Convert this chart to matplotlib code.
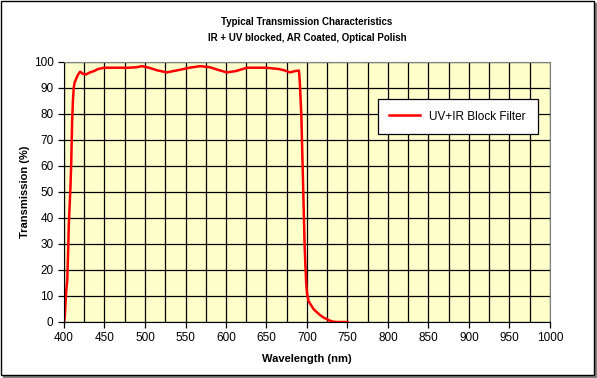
import matplotlib
matplotlib.use('Agg')
from matplotlib import pyplot as plt
from matplotlib.patches import Rectangle
from matplotlib.ticker import MultipleLocator

plt.rcParams['font.family'] = ['Liberation Sans', 'DejaVu Sans']

# UV+IR block filter transmission curve
wavelength = [400, 401, 402, 403, 404, 405, 406, 407, 408, 409, 410, 411, 412,
              413, 415, 417, 420, 423, 427, 432, 437, 442, 450, 463, 480, 490,
              496, 505, 515, 527, 540, 555, 568, 580, 590, 601, 612, 626, 650,
              665, 672, 679, 685, 690, 691, 693, 695, 697, 698, 699, 700, 702,
              705, 708, 712, 716, 720, 725, 730, 735, 750]
transmission = [0, 2, 8, 13, 16, 26, 38, 45, 52, 62, 77, 85, 90,
                92, 93.5, 95, 96.3, 95.5, 95.2, 96, 96.5, 97.3, 97.8, 97.8, 97.8, 98,
                98.4, 97.8, 96.8, 96, 96.8, 97.8, 98.4, 98, 97, 96, 96.5, 97.8, 97.8,
                97.3, 96.8, 96, 96.5, 96.7, 93, 79.6, 55, 30, 22, 15, 11, 8,
                6.5, 5, 3.8, 2.7, 1.8, 1.0, 0.3, 0, 0]

fig = plt.figure(figsize=(5.97, 3.78), dpi=100)
ax = fig.add_axes([64 / 597, 56 / 378, 486 / 597, 260 / 378])
ax.set_facecolor('#FFFFCC')

ax.plot(wavelength, transmission, color='red', lw=1.8, label='UV+IR Block Filter')

ax.set_xlim(400, 1000)
ax.set_ylim(0, 100)
ax.xaxis.set_major_locator(MultipleLocator(50))
ax.xaxis.set_minor_locator(MultipleLocator(25))
ax.yaxis.set_major_locator(MultipleLocator(10))
ax.grid(which='both', color='black', lw=0.9)
ax.set_axisbelow(True)
ax.tick_params(which='major', direction='out', length=4, width=0.9,
               labelsize=8.5, colors='black')
ax.tick_params(which='minor', length=0)

for side in ['top', 'right']:
    ax.spines[side].set_color('#808080')
for side in ['left', 'bottom']:
    ax.spines[side].set_color('black')

ax.set_xlabel('Wavelength (nm)', fontsize=8, fontweight='bold', labelpad=7)
ax.set_ylabel('Transmission (%)', fontsize=8, fontweight='bold', labelpad=3)
ax.set_title('Typical Transmission Characteristics\nIR + UV blocked, AR Coated, Optical Polish',
             fontsize=7, fontweight='bold', pad=15, linespacing=1.8)

leg = ax.legend(loc='center', bbox_to_anchor=(0.81, 0.79), fontsize=8.5,
                fancybox=False, framealpha=1, edgecolor='black',
                handlelength=2.6, borderpad=1.0)
leg.get_frame().set_linewidth(0.9)

# figure frame with shadow
fig.patches.append(Rectangle((3 / 597, 0), 594 / 597, 375 / 378,
                             transform=fig.transFigure, color='#808080', zorder=-2))
fig.patches.append(Rectangle((0.5 / 597, 3.5 / 378), 593 / 597, 374 / 378,
                             transform=fig.transFigure, facecolor='white',
                             edgecolor='black', lw=1, zorder=-1))

fig.savefig('out.png', dpi=100)
